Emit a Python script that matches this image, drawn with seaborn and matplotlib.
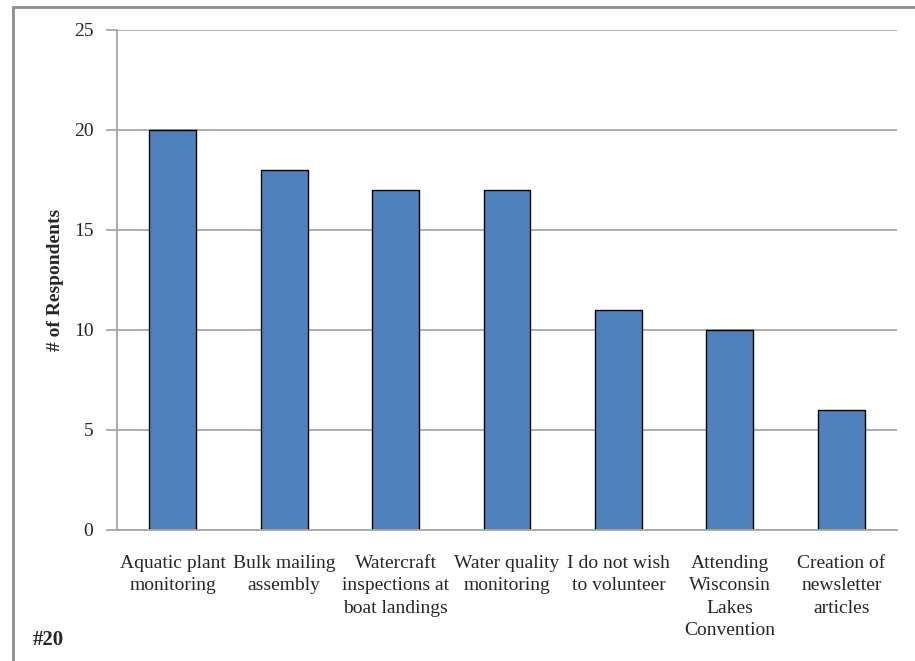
import matplotlib
matplotlib.use("Agg")
import matplotlib.pyplot as plt
import seaborn as sns
import pandas as pd
from matplotlib.patches import Rectangle

categories = [
    "Aquatic plant\nmonitoring",
    "Bulk mailing\nassembly",
    "Watercraft\ninspections at\nboat landings",
    "Water quality\nmonitoring",
    "I do not wish\nto volunteer",
    "Attending\nWisconsin\nLakes\nConvention",
    "Creation of\nnewsletter\narticles",
]
values = [20, 18, 17, 17, 11, 10, 6]
yticks = [0, 5, 10, 15, 20, 25]

sns.set_theme(style="white")
plt.rcParams['font.family'] = ['Liberation Serif', 'DejaVu Serif']

df = pd.DataFrame({"cat": categories, "val": values})

W, H = 915, 661
fig = plt.figure(figsize=(W / 100, H / 100), dpi=100)
ax = fig.add_axes([117 / W, 1 - 530 / H, (897 - 117) / W, (530 - 30) / H])

sns.barplot(data=df, x="cat", y="val", ax=ax, color="#4F81BD", saturation=1,
            edgecolor="black", linewidth=1.0, width=0.42)

ax.set_ylim(0, 25)
ax.set_xlim(-0.5, len(categories) - 0.5)
ax.set_yticks(yticks)
ax.set_yticklabels([str(t) for t in yticks], fontsize=14)
ax.yaxis.grid(True, color="#A6A6A6", linewidth=1.3)
ax.set_axisbelow(True)

ax.set_xticks([i - 0.5 for i in range(len(categories) + 1)], minor=True)
ax.set_xticks(range(len(categories)))
ax.set_xticklabels(categories, fontsize=14, linespacing=1.42)
ax.tick_params(axis="x", which="major", length=0, pad=18)
ax.tick_params(axis="x", which="minor", length=6, color="#A6A6A6", width=1.3, direction="out")
ax.tick_params(axis="y", length=8, color="#A6A6A6", width=1.3, direction="out", pad=9, left=True)

for s in ["top", "right"]:
    ax.spines[s].set_visible(False)
for s in ["left", "bottom"]:
    ax.spines[s].set_color("#A6A6A6")
    ax.spines[s].set_linewidth(1.3)

ax.set_xlabel("")
ax.set_ylabel("# of Respondents", fontsize=14, fontweight="bold", labelpad=7)

fig.text(33 / W, 1 - 640 / H, "#20", fontsize=15, fontweight="bold", va="center", ha="left")

fig.patches.append(Rectangle((13 / W, -0.1), 1.2, 1 - 7 / H + 0.1, transform=fig.transFigure,
                             fill=False, edgecolor="#8C8C8C", linewidth=2.0))

fig.savefig("out.png", dpi=100)
